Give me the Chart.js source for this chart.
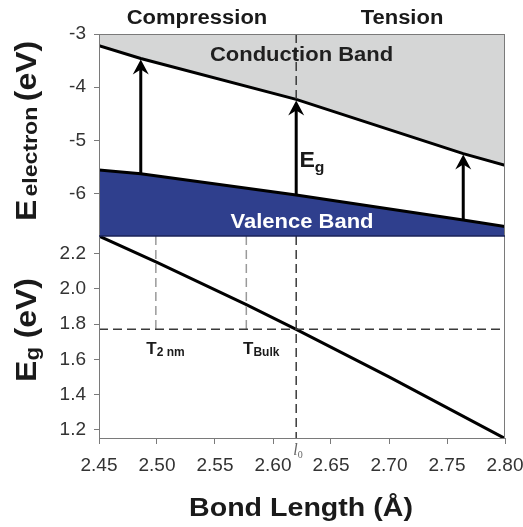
<!DOCTYPE html>
<html>
<head>
<meta charset="utf-8">
<script src="https://cdn.jsdelivr.net/npm/chart.js@4.4.1/dist/chart.umd.min.js"></script>
<style>
  html, body { margin: 0; padding: 0; background: #fff; }
  #wrap { position: relative; width: 523px; height: 527px; }
</style>
</head>
<body>
<div id="wrap"><canvas id="bandChart" width="523" height="527"></canvas></div>
<script>
// band edges vs bond length (Å)
const bondLength = [2.45, 2.486, 2.62, 2.764, 2.80];
const conductionBand = [-3.22, -3.46, -4.23, -5.25, -5.47];
const valenceBand = [-5.56, -5.63, -6.03, -6.50, -6.62];

// band gap curve
const gapBond = [2.45, 2.50, 2.577, 2.62, 2.70, 2.80];
const bandGap = [2.30, 2.15, 1.91, 1.77, 1.50, 1.15];

// Eg arrows (from valence band up to conduction band)
const arrowBond = [2.486, 2.62, 2.764];
const arrowFrom = [-5.63, -6.03, -6.50];
const arrowTo = [-3.46, -4.23, -5.25];

// reference markers
const l0 = 2.62;
const eg0 = 1.77;
const t2nm = 2.499;
const tBulk = 2.577;

// axes
const xTicks = [2.45, 2.50, 2.55, 2.60, 2.65, 2.70, 2.75, 2.80];
const topTicks = [-3, -4, -5, -6];
const bottomTicks = [1.2, 1.4, 1.6, 1.8, 2.0, 2.2];
const xRange = [2.45, 2.80];
const topRange = [-6.8, -3];
const bottomRange = [1.153, 2.30];

const FONT = "'Liberation Sans', Arial, Helvetica, sans-serif";
const GREY_FILL = '#d5d6d6';
const BLUE_FILL = '#2f3f8d';
const AXIS_COLOR = '#7a7a7a';

const pts = (xs, ys) => xs.map((x, i) => ({ x: x, y: ys[i] }));

function drawRich(ctx, parts, x, y, opts) {
    opts = opts || {};
    ctx.save();
    ctx.translate(x, y);
    if (opts.angle) ctx.rotate(opts.angle);
    ctx.scale(opts.stretch || 1, 1);
    let total = 0;
    parts.forEach(p => {
        ctx.font = p.font;
        p.w = ctx.measureText(p.text).width;
        total += p.w + (p.gap || 0);
    });
    let cx = opts.align === 'center' ? -total / 2 : 0;
    ctx.textAlign = 'left';
    ctx.textBaseline = 'alphabetic';
    parts.forEach(p => {
        ctx.font = p.font;
        ctx.fillStyle = p.color || '#1a1a1a';
        ctx.fillText(p.text, cx, p.dy || 0);
        cx += p.w + (p.gap || 0);
    });
    ctx.restore();
}

const decorPlugin = {
    id: 'decor',
    afterDatasetsDraw(chart) {
        const ctx = chart.ctx;
        const area = chart.chartArea;
        const xs = chart.scales.x;
        const yt = chart.scales.yTop;
        const yb = chart.scales.yBot;

        // arrows
        ctx.save();
        ctx.strokeStyle = '#000';
        ctx.fillStyle = '#000';
        ctx.lineWidth = 3;
        arrowBond.forEach((b, i) => {
            const px = xs.getPixelForValue(b);
            const y1 = yt.getPixelForValue(arrowFrom[i]);
            const y2 = yt.getPixelForValue(arrowTo[i]) + 1;
            ctx.beginPath();
            ctx.moveTo(px, y1);
            ctx.lineTo(px, y2 + 8);
            ctx.stroke();
            ctx.beginPath();
            ctx.moveTo(px, y2);
            ctx.lineTo(px + 8, y2 + 15);
            ctx.lineTo(px, y2 + 10);
            ctx.lineTo(px - 8, y2 + 15);
            ctx.closePath();
            ctx.fill();
        });
        ctx.restore();

        // frame and panel divider
        ctx.save();
        ctx.strokeStyle = AXIS_COLOR;
        ctx.lineWidth = 1;
        ctx.strokeRect(area.left + 0.5, area.top + 0.5, area.right - area.left - 1, area.bottom - area.top);
        ctx.strokeStyle = '#1b2358';
        ctx.lineWidth = 1.5;
        ctx.beginPath();
        ctx.moveTo(area.left, yt.bottom);
        ctx.lineTo(area.right, yt.bottom);
        ctx.stroke();
        ctx.restore();

        const bold = s => 'bold ' + s + 'px ' + FONT;

        // in-plot labels
        drawRich(ctx, [{ text: 'Conduction Band', font: bold(20), color: '#1f1f1f' }],
            xs.getPixelForValue(2.6246), yt.getPixelForValue(-3.50), { align: 'center', stretch: 1.1 });
        drawRich(ctx, [{ text: 'Valence Band', font: bold(20), color: '#ffffff' }],
            xs.getPixelForValue(2.625), yt.getPixelForValue(-6.65), { align: 'center', stretch: 1.1 });
        drawRich(ctx, [
            { text: 'E', font: bold(22) },
            { text: 'g', font: bold(15), dy: 5 }
        ], xs.getPixelForValue(2.6228), yt.getPixelForValue(-5.51), { stretch: 1.05 });
        drawRich(ctx, [
            { text: 'T', font: bold(17) },
            { text: '2 nm', font: bold(12), dy: 2 }
        ], xs.getPixelForValue(2.4908), yb.getPixelForValue(1.632), {});
        drawRich(ctx, [
            { text: 'T', font: bold(17) },
            { text: 'Bulk', font: bold(12), dy: 2 }
        ], xs.getPixelForValue(2.5742), yb.getPixelForValue(1.632), {});

        // l0 below the axis
        drawRich(ctx, [
            { text: 'l', font: 'italic 16px "Liberation Serif", "DejaVu Serif", serif', color: '#666' },
            { text: '0', font: '10px "Liberation Serif", "DejaVu Serif", serif', color: '#666', dy: 3 }
        ], xs.getPixelForValue(l0) - 3, area.bottom + 17, {});

        // headers
        drawRich(ctx, [{ text: 'Compression', font: bold(20) }], 197, 24, { align: 'center', stretch: 1.1 });
        drawRich(ctx, [{ text: 'Tension', font: bold(20) }], 402, 24, { align: 'center', stretch: 1.1 });

        // axis titles
        drawRich(ctx, [{ text: 'Bond Length (Å)', font: bold(26) }], 301, 516, { align: 'center', stretch: 1.1 });
        drawRich(ctx, [
            { text: 'E', font: bold(29), gap: 3 },
            { text: 'electron', font: bold(21), dy: 1, gap: 5 },
            { text: '(eV)', font: bold(29) }
        ], 36, 131, { angle: -Math.PI / 2, align: 'center', stretch: 1.1 });
        drawRich(ctx, [
            { text: 'E', font: bold(29) },
            { text: 'g', font: bold(20), dy: 3, gap: 8 },
            { text: '(eV)', font: bold(29) }
        ], 36, 330, { angle: -Math.PI / 2, align: 'center', stretch: 1.1 });
    }
};

const dashed = (data, axis, color) => ({
    data: data,
    yAxisID: axis,
    borderColor: color,
    borderWidth: 1.5,
    borderDash: [9, 5],
    pointRadius: 0,
    fill: false,
    order: -1
});

const tickFont = { family: FONT, size: 19 };

const ctx = document.getElementById('bandChart').getContext('2d');
const bandChart = new Chart(ctx, {
    type: 'line',
    data: {
        datasets: [
            {
                label: 'Conduction Band',
                data: pts(bondLength, conductionBand),
                yAxisID: 'yTop',
                borderColor: '#000',
                borderWidth: 3,
                backgroundColor: GREY_FILL,
                fill: 'end',
                pointRadius: 0
            },
            {
                label: 'Valence Band',
                data: pts(bondLength, valenceBand),
                yAxisID: 'yTop',
                borderColor: '#000',
                borderWidth: 3,
                backgroundColor: BLUE_FILL,
                fill: 'start',
                pointRadius: 0
            },
            {
                label: 'Eg',
                data: pts(gapBond, bandGap),
                yAxisID: 'yBot',
                borderColor: '#000',
                borderWidth: 3,
                fill: false,
                pointRadius: 0
            },
            dashed([{ x: l0, y: topRange[1] }, { x: l0, y: valenceBand[2] }], 'yTop', '#3a3a3a'),
            dashed([{ x: l0, y: bottomRange[1] }, { x: l0, y: bottomRange[0] }], 'yBot', '#3a3a3a'),
            dashed([{ x: xRange[0], y: eg0 }, { x: xRange[1], y: eg0 }], 'yBot', '#3a3a3a'),
            dashed([{ x: t2nm, y: bottomRange[1] }, { x: t2nm, y: eg0 }], 'yBot', '#9a9a9a'),
            dashed([{ x: tBulk, y: bottomRange[1] }, { x: tBulk, y: eg0 }], 'yBot', '#9a9a9a')
        ]
    },
    options: {
        responsive: false,
        animation: false,
        layout: { padding: { left: 55, right: 18, top: 34, bottom: 0 } },
        plugins: {
            legend: { display: false },
            tooltip: { enabled: false }
        },
        scales: {
            x: {
                type: 'linear',
                min: xRange[0],
                max: xRange[1],
                afterBuildTicks: axis => { axis.ticks = xTicks.map(v => ({ value: v })); },
                afterFit: axis => { axis.height = 89; axis.paddingLeft = 0; axis.paddingRight = 0; },
                ticks: { callback: v => v.toFixed(2), font: tickFont, color: '#333', padding: 10, autoSkip: false, maxRotation: 0 },
                grid: { drawOnChartArea: false, tickLength: 6, color: AXIS_COLOR },
                border: { color: AXIS_COLOR }
            },
            yTop: {
                type: 'linear',
                position: 'left',
                stack: 'bands',
                stackWeight: 1,
                weight: 1,
                min: topRange[0],
                max: topRange[1],
                afterBuildTicks: axis => { axis.ticks = topTicks.map(v => ({ value: v })); },
                afterFit: axis => { axis.width = 44; axis.paddingTop = 0; axis.paddingBottom = 0; },
                ticks: { callback: v => String(v), font: tickFont, color: '#333', padding: 8, autoSkip: false },
                grid: { drawOnChartArea: false, tickLength: 5, color: AXIS_COLOR },
                border: { color: AXIS_COLOR }
            },
            yBot: {
                type: 'linear',
                position: 'left',
                stack: 'bands',
                stackWeight: 1,
                weight: 0,
                min: bottomRange[0],
                max: bottomRange[1],
                afterBuildTicks: axis => { axis.ticks = bottomTicks.map(v => ({ value: v })); },
                afterFit: axis => { axis.width = 44; axis.paddingTop = 0; axis.paddingBottom = 0; },
                ticks: { callback: v => v.toFixed(1), font: tickFont, color: '#333', padding: 8, autoSkip: false },
                grid: { drawOnChartArea: false, tickLength: 5, color: AXIS_COLOR },
                border: { color: AXIS_COLOR }
            }
        }
    },
    plugins: [decorPlugin]
});
</script>
</body>
</html>
